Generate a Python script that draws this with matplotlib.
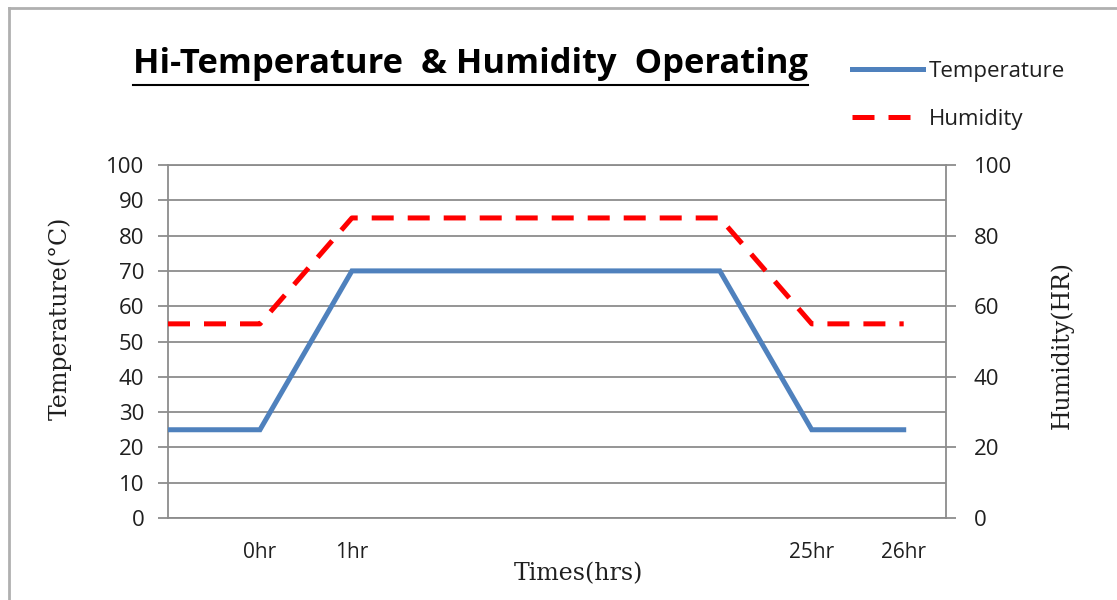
import matplotlib
matplotlib.use("Agg")
import matplotlib.pyplot as plt
from matplotlib.lines import Line2D

# --- data ---
time_pos = [0, 1, 2, 6, 7, 8]                     # category slots along the time axis
temperature = [25, 25, 70, 70, 25, 25]            # deg C
humidity = [55, 55, 85, 85, 55, 55]               # %RH
tick_pos = [1, 2, 7, 8]
tick_labels = ["0hr", "1hr", "25hr", "26hr"]
temp_ticks = list(range(0, 101, 10))
hum_ticks = list(range(0, 101, 20))

W, H = 1117, 600
GRID = "#8c8c8c"
TXT = "#1f1f1f"

plt.rcParams.update({
    "font.family": ["Open Sans", "DejaVu Sans"],
    "font.size": 15,
})

fig = plt.figure(figsize=(W / 100, H / 100), dpi=100)
ax = fig.add_axes([168 / W, 1 - 518 / H, (946 - 168) / W, (518 - 165) / H])
ax2 = ax.twinx()

# lines
l_temp, = ax.plot(time_pos, temperature, color="#4F81BD", lw=3.6,
                  solid_joinstyle="miter", label="Temperature", zorder=3)
l_hum, = ax2.plot(time_pos, humidity, color="#FF0000", lw=3.6,
                  dashes=(4.4, 2.8), dash_capstyle="butt", label="Humidity",
                  zorder=3)

# axes scaling
ax.set_xlim(time_pos[0], time_pos[-1] + 0.46)
ax.set_ylim(0, 100)
ax2.set_ylim(0, 100)
ax.set_yticks(temp_ticks)
ax2.set_yticks(hum_ticks)
ax.set_xticks(tick_pos)
ax.set_xticklabels(tick_labels)

# grid + spines
ax.set_axisbelow(True)
ax.yaxis.grid(True, color=GRID, lw=1.3)
for sp in ["left", "bottom", "top"]:
    ax.spines[sp].set_color(GRID)
    ax.spines[sp].set_linewidth(1.3)
ax.spines["right"].set_visible(False)
for sp in ["left", "bottom", "top"]:
    ax2.spines[sp].set_visible(False)
ax2.spines["right"].set_color(GRID)
ax2.spines["right"].set_linewidth(1.3)

ax.tick_params(axis="y", direction="out", length=7, width=1.3, color=GRID,
               pad=10, labelsize=16, labelcolor=TXT)
ax.tick_params(axis="x", length=0, pad=17, labelsize=15, labelcolor=TXT)
ax2.tick_params(axis="y", direction="out", length=7, width=1.3, color=GRID,
                pad=13, labelsize=16, labelcolor=TXT)

# axis titles (serif, like the original)
fig.text(60 / W, 1 - 318 / H, "Temperature(°C)", rotation=90, ha="center",
         va="center", family="DejaVu Serif", fontsize=17, color=TXT)
fig.text(1062 / W, 1 - 345 / H, "Humidity(HR)", rotation=90, ha="center",
         va="center", family="DejaVu Serif", fontsize=17, color=TXT)
fig.text(578 / W, 1 - 574 / H, "Times(hrs)", ha="center", va="center",
         family="DejaVu Serif", fontsize=17, color=TXT)

# underlined chart title
title = fig.text(470 / W, 1 - 73 / H, "Hi-Temperature  & Humidity  Operating",
                 ha="center", va="baseline", fontsize=24.8, fontweight="bold",
                 color="black")
fig.canvas.draw()
bb = title.get_window_extent()
fig.add_artist(Line2D([bb.x0 / W, bb.x1 / W], [1 - 85 / H, 1 - 85 / H],
                      transform=fig.transFigure, color="black", lw=1.5))

# legend
fig.legend(handles=[l_temp, l_hum], loc="upper left",
           bbox_to_anchor=(852 / W, 1 - 61 / H), frameon=False, borderpad=0,
           borderaxespad=0, handlelength=3.2, handletextpad=0.25,
           labelspacing=1.2, prop={"size": 16}, labelcolor=TXT)

# chart-area border (only the top and left edges are visible in the crop)
fig.add_artist(Line2D([9 / W, 9 / W], [0, 1 - 8 / H], transform=fig.transFigure,
                      color="#b0b0b0", lw=2))
fig.add_artist(Line2D([9 / W, 1], [1 - 8 / H, 1 - 8 / H],
                      transform=fig.transFigure, color="#b0b0b0", lw=2))

fig.savefig("out.png", dpi=100)
